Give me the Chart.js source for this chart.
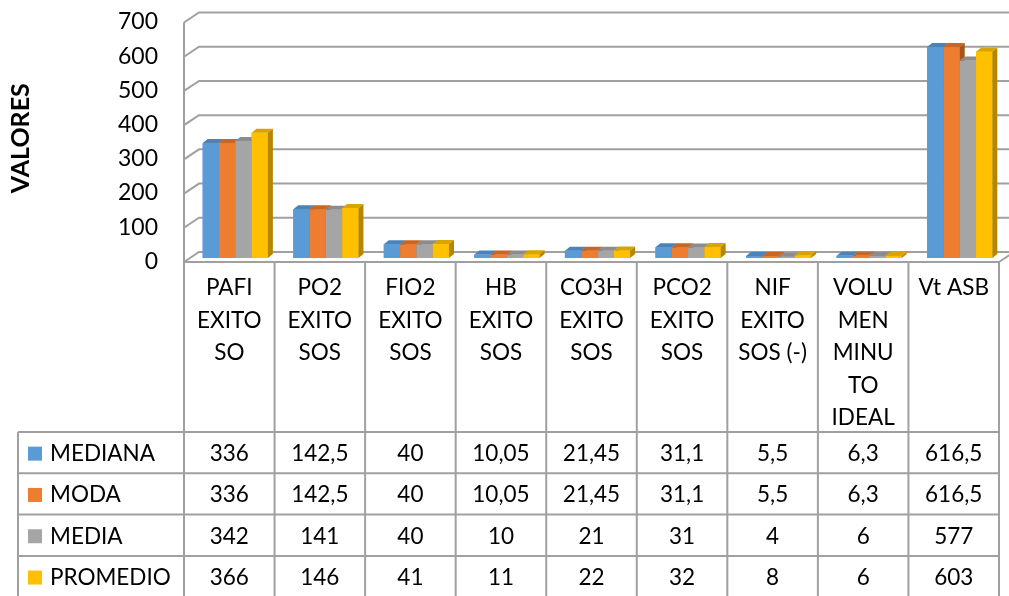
<!DOCTYPE html>
<html>
<head>
<meta charset="utf-8">
<script src="https://cdn.jsdelivr.net/npm/chart.js@4.4.0/dist/chart.umd.min.js"></script>
<style>
  html, body { margin: 0; padding: 0; background: #fff; }
</style>
</head>
<body>
<canvas id="chart" width="1009" height="596"></canvas>
<script>
// --- datos ---
const categories = [
    ['PAFI', 'EXITO', 'SO'],
    ['PO2', 'EXITO', 'SOS'],
    ['FIO2', 'EXITO', 'SOS'],
    ['HB', 'EXITO', 'SOS'],
    ['CO3H', 'EXITO', 'SOS'],
    ['PCO2', 'EXITO', 'SOS'],
    ['NIF', 'EXITO', 'SOS (-)'],
    ['VOLU', 'MEN', 'MINU', 'TO', 'IDEAL'],
    ['Vt ASB']
];
const seriesNames = ['MEDIANA', 'MODA', 'MEDIA', 'PROMEDIO'];
const mediana = [336, 142.5, 40, 10.05, 21.45, 31.1, 5.5, 6.3, 616.5];
const moda = [336, 142.5, 40, 10.05, 21.45, 31.1, 5.5, 6.3, 616.5];
const media = [342, 141, 40, 10, 21, 31, 4, 6, 577];
const promedio = [366, 146, 41, 11, 22, 32, 8, 6, 603];
const yTicks = [0, 100, 200, 300, 400, 500, 600, 700];

const colors = ['#5B9BD5', '#ED7D31', '#A5A5A5', '#FFC000'];
const topColors = ['#4A83B8', '#C96624', '#8C8C8C', '#D9A300'];
const sideColors = ['#3F6F9C', '#A8551D', '#7A7A7A', '#B58700'];
const FONT = 'Lato, "Open Sans", sans-serif';
const LINE = '#A0A0A0';

// offsets de la "profundidad" 3D respecto al plano de las barras
const FRONT = { dx: -6, dy: 4 };
const BACK = { dx: 9, dy: -6 };
const BAR3D = { dx: 5, dy: 4 };

const fmt = (v) => String(v).replace('.', ',');

// --- paredes / cuadrícula del fondo ---
const wallPlugin = {
    id: 'walls',
    beforeDatasetsDraw(chart) {
        const ctx = chart.ctx;
        const ys = chart.scales.y;
        const a = chart.chartArea;
        ctx.save();
        ctx.strokeStyle = LINE;
        ctx.lineWidth = 2;
        yTicks.forEach((v) => {
            const py = ys.getPixelForValue(v);
            ctx.beginPath();
            ctx.moveTo(a.left + FRONT.dx, py + FRONT.dy);
            ctx.lineTo(a.left + BACK.dx, py + BACK.dy);
            ctx.lineTo(chart.width, py + BACK.dy);
            ctx.stroke();
        });
        // arista frontal izquierda
        ctx.beginPath();
        ctx.moveTo(a.left + FRONT.dx, ys.getPixelForValue(700) + FRONT.dy);
        ctx.lineTo(a.left + FRONT.dx, a.bottom + FRONT.dy);
        ctx.stroke();
        // lado derecho del piso
        ctx.beginPath();
        ctx.moveTo(a.right + FRONT.dx, a.bottom + FRONT.dy);
        ctx.lineTo(a.right + BACK.dx, a.bottom + BACK.dy);
        ctx.stroke();
        ctx.restore();
    }
};

// --- barras con caras superior y lateral ---
const bar3dPlugin = {
    id: 'bar3d',
    afterDatasetsDraw(chart) {
        const ctx = chart.ctx;
        const n = chart.data.labels.length;
        ctx.save();
        for (let j = 0; j < n; j++) {
            chart.data.datasets.forEach((ds, i) => {
                const el = chart.getDatasetMeta(i).data[j];
                const { x, y, base, width } = el.getProps(['x', 'y', 'base', 'width'], true);
                const l = x - width / 2;
                const r = x + width / 2;
                ctx.fillStyle = colors[i];
                ctx.fillRect(l, y, width, base - y);
                ctx.fillStyle = topColors[i];
                ctx.beginPath();
                ctx.moveTo(l, y);
                ctx.lineTo(l + BAR3D.dx, y - BAR3D.dy);
                ctx.lineTo(r + BAR3D.dx, y - BAR3D.dy);
                ctx.lineTo(r, y);
                ctx.closePath();
                ctx.fill();
                ctx.fillStyle = sideColors[i];
                ctx.beginPath();
                ctx.moveTo(r, y);
                ctx.lineTo(r + BAR3D.dx, y - BAR3D.dy);
                ctx.lineTo(r + BAR3D.dx, base - BAR3D.dy);
                ctx.lineTo(r, base);
                ctx.closePath();
                ctx.fill();
            });
        }
        ctx.restore();
    }
};

// --- tabla de datos bajo el gráfico ---
const tablePlugin = {
    id: 'dataTable',
    afterDraw(chart) {
        const ctx = chart.ctx;
        const xs = chart.scales.x;
        const a = chart.chartArea;
        const n = categories.length;
        const colW = xs.getPixelForValue(1) - xs.getPixelForValue(0);
        const colLeft = (j) => xs.getPixelForValue(j) - colW / 2 + FRONT.dx;
        const top = a.bottom + FRONT.dy;
        const headBottom = 432;
        const rowH = 41.3;
        const legLeft = 18;
        const right = colLeft(n);
        const bottom = headBottom + rowH * seriesNames.length;

        ctx.save();
        ctx.strokeStyle = LINE;
        ctx.lineWidth = 2;
        ctx.beginPath();
        ctx.moveTo(colLeft(0), top);
        ctx.lineTo(right, top);
        for (let j = 0; j <= n; j++) {
            ctx.moveTo(colLeft(j), top);
            ctx.lineTo(colLeft(j), bottom);
        }
        for (let r = 0; r <= seriesNames.length; r++) {
            ctx.moveTo(legLeft, headBottom + r * rowH);
            ctx.lineTo(right, headBottom + r * rowH);
        }
        ctx.moveTo(legLeft, headBottom);
        ctx.lineTo(legLeft, bottom);
        ctx.stroke();

        ctx.fillStyle = '#000';
        ctx.font = '22.5px ' + FONT;
        ctx.textAlign = 'center';
        ctx.textBaseline = 'middle';
        categories.forEach((lines, j) => {
            const cx = colLeft(j) + colW / 2;
            lines.forEach((t, k) => ctx.fillText(t, cx, 288 + k * 32.5));
        });

        const rows = [mediana, moda, media, promedio];
        rows.forEach((vals, r) => {
            const cy = headBottom + r * rowH + rowH / 2 + 1;
            ctx.fillStyle = colors[r];
            ctx.fillRect(28, cy - 7, 14, 14);
            ctx.fillStyle = '#000';
            ctx.textAlign = 'left';
            ctx.fillText(seriesNames[r], 50, cy);
            ctx.textAlign = 'center';
            vals.forEach((v, j) => ctx.fillText(fmt(v), colLeft(j) + colW / 2, cy));
        });
        ctx.restore();
    }
};

const ctx = document.getElementById('chart');
new Chart(ctx, {
    type: 'bar',
    data: {
        labels: categories,
        datasets: [
            { label: seriesNames[0], data: mediana, backgroundColor: colors[0] },
            { label: seriesNames[1], data: moda, backgroundColor: colors[1] },
            { label: seriesNames[2], data: media, backgroundColor: colors[2] },
            { label: seriesNames[3], data: promedio, backgroundColor: colors[3] }
        ]
    },
    options: {
        responsive: false,
        animation: false,
        devicePixelRatio: 1,
        categoryPercentage: 0.72,
        barPercentage: 1,
        layout: { padding: { left: 0, right: 4, top: 18.5, bottom: 338 } },
        plugins: { legend: { display: false }, tooltip: { enabled: false } },
        scales: {
            x: { display: false },
            y: {
                min: 0,
                max: 700,
                ticks: {
                    stepSize: 100,
                    padding: 32,
                    labelOffset: 3.5,
                    color: '#000',
                    font: { family: FONT, size: 23 }
                },
                grid: { display: false, drawTicks: false },
                border: { display: false },
                title: {
                    display: true,
                    text: 'VALORES',
                    color: '#000',
                    padding: { top: 6, bottom: 0 },
                    font: { family: FONT, size: 25, weight: 'bold' }
                },
                afterFit: (s) => {
                    s.width = 190;
                    s.paddingTop = 0;
                    s.paddingBottom = 0;
                }
            }
        }
    },
    plugins: [wallPlugin, bar3dPlugin, tablePlugin]
});
</script>
</body>
</html>
